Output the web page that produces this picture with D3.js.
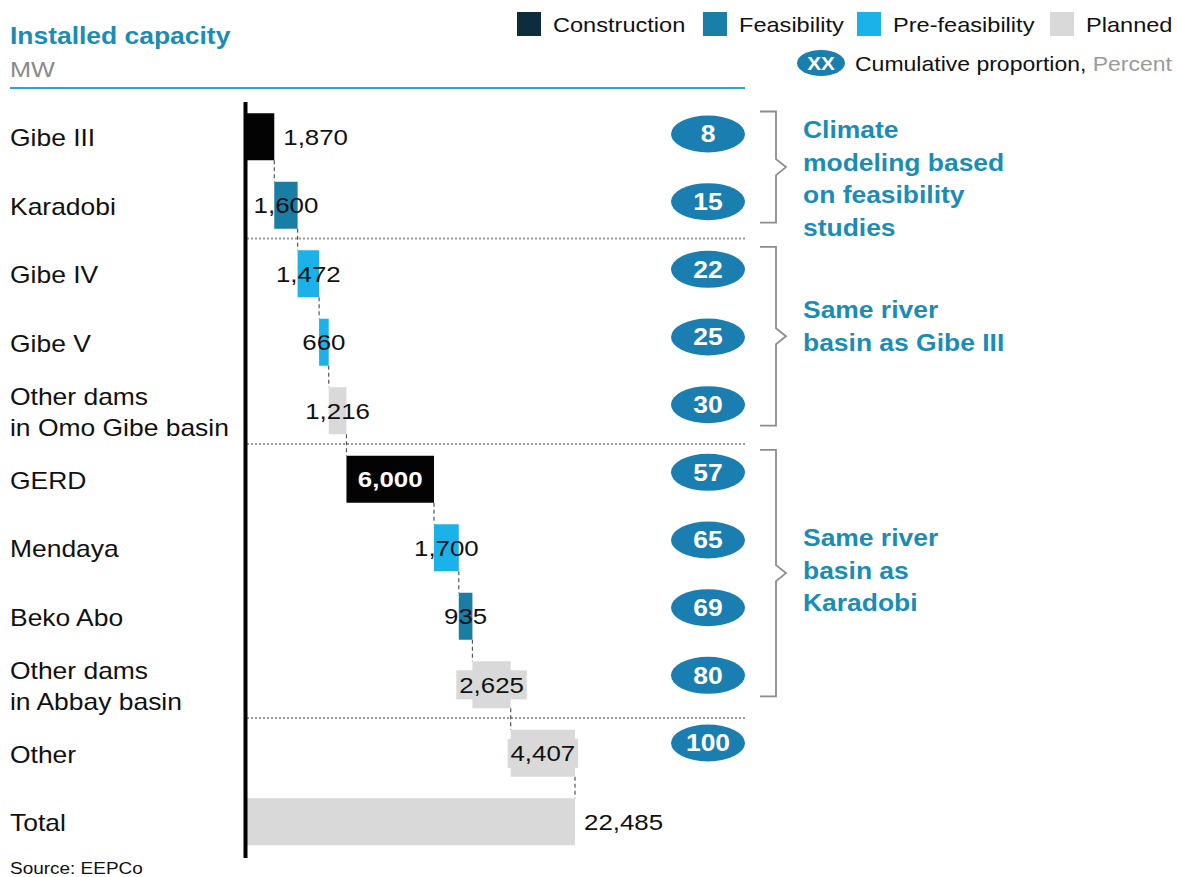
<!DOCTYPE html>
<html>
<head>
<meta charset="utf-8">
<script src="https://cdn.jsdelivr.net/npm/d3@7"></script>
<style>
  html, body { margin: 0; padding: 0; background: #fff; }
  svg { display: block; font-family: "Liberation Sans", Arial, sans-serif; }
</style>
</head>
<body>
<svg id="chart" width="1178" height="877"></svg>
<script>
// ---------- data ----------
const categories = ["Gibe III", "Karadobi", "Gibe IV", "Gibe V", "Other dams\nin Omo Gibe basin",
  "GERD", "Mendaya", "Beko Abo", "Other dams\nin Abbay basin", "Other", "Total"];
const values = [1870, 1600, 1472, 660, 1216, 6000, 1700, 935, 2625, 4407, 22485];
const statuses = ["Construction", "Feasibility", "Pre-feasibility", "Pre-feasibility", "Planned",
  "Construction", "Pre-feasibility", "Feasibility", "Planned", "Planned", "Total"];
const cumulativePct = [8, 15, 22, 25, 30, 57, 65, 69, 80, 100];
const legendItems = ["Construction", "Feasibility", "Pre-feasibility", "Planned"];
const groups = [
  { from: 0, to: 1, lines: ["Climate", "modeling based", "on feasibility", "studies"] },
  { from: 2, to: 4, lines: ["Same river", "basin as Gibe III"] },
  { from: 5, to: 8, lines: ["Same river", "basin as", "Karadobi"] }
];
const separatorsAfter = [1, 4, 8];

// ---------- style ----------
const SX = 1.15;
const TEAL = "#1b8cb5";
const PILL = "#1a7fb0";
const legendColor = { "Construction": "#0d2d3c", "Feasibility": "#1a7fa8", "Pre-feasibility": "#1ab2e8", "Planned": "#d9d9d9" };
const barColor = { "Construction": "#030303", "Feasibility": "#1a7da4", "Pre-feasibility": "#1ab2e8", "Planned": "#d9d9d9", "Total": "#d9d9d9" };

const svg = d3.select("#chart");

function txt(parent, x, y, s, o) {
  const g = parent.append("g").attr("transform", `translate(${x},${y}) scale(${SX},1)`);
  const t = g.append("text")
    .attr("text-anchor", o.anchor || "start")
    .attr("font-size", o.size)
    .attr("font-weight", o.weight || "normal")
    .attr("fill", o.fill || "#111")
    .text(s);
  return { g, t };
}

// ---------- header ----------
txt(svg, 10, 44, "Installed capacity", { size: 23, weight: "bold", fill: TEAL });
txt(svg, 10, 77, "MW", { size: 22, fill: "#8a8a8a" });
svg.append("line").attr("x1", 10).attr("x2", 745).attr("y1", 88).attr("y2", 88)
  .attr("stroke", "#2aa6d6").attr("stroke-width", 2);

// ---------- legend ----------
const legendX = [517, 703, 857, 1050];
legendItems.forEach((k, i) => {
  svg.append("rect").attr("x", legendX[i]).attr("y", 12).attr("width", 24).attr("height", 24)
    .attr("fill", legendColor[k]);
  txt(svg, legendX[i] + 36, 32, k, { size: 20.5, fill: "#111" });
});
svg.append("ellipse").attr("cx", 821).attr("cy", 63).attr("rx", 24).attr("ry", 13).attr("fill", PILL);
txt(svg, 821, 69.5, "XX", { size: 18, weight: "bold", fill: "#fff", anchor: "middle" });
{
  const l = txt(svg, 1172, 71, "", { size: 20, anchor: "end" });
  l.t.append("tspan").attr("fill", "#111").text("Cumulative proportion, ");
  l.t.append("tspan").attr("fill", "#9a9a9a").text("Percent");
}

// ---------- scales ----------
const x = d3.scaleLinear().domain([0, values[values.length - 1]]).range([247, 575]);
const y = d3.scaleBand().domain(categories).range([104, 857.5]).paddingInner(0.314).paddingOuter(0.157);
const pillY = d3.scaleLinear().domain([0, cumulativePct.length - 1]).range([134, 743]);
const bw = y.bandwidth();
const center = c => y(c) + bw / 2;

// waterfall data
let run = 0;
const rows = categories.map((c, i) => {
  const isTotal = statuses[i] === "Total";
  const start = isTotal ? 0 : run;
  const end = isTotal ? values[i] : run + values[i];
  if (!isTotal) run = end;
  return { cat: c, value: values[i], status: statuses[i], start, end, isTotal, i };
});

// ---------- separators ----------
separatorsAfter.forEach(i => {
  const yy = (center(categories[i]) + center(categories[i + 1])) / 2 - 2.5;
  svg.append("line").attr("x1", 247).attr("x2", 745).attr("y1", yy).attr("y2", yy)
    .attr("stroke", "#9a9a9a").attr("stroke-width", 2).attr("stroke-dasharray", "2,2");
});

// ---------- category labels ----------
rows.forEach(d => {
  const lines = d.cat.split("\n");
  const c = center(d.cat);
  if (lines.length === 1) {
    txt(svg, 10, c + 8.2, lines[0], { size: 23 });
  } else {
    txt(svg, 10, c - 15.5 + 8.2, lines[0], { size: 23 });
    txt(svg, 10, c + 15.5 + 8.2, lines[1], { size: 23 });
  }
});

// ---------- connectors ----------
rows.slice(0, -1).forEach((d, i) => {
  const nx = rows[i + 1];
  svg.append("line")
    .attr("x1", x(d.end)).attr("x2", x(d.end))
    .attr("y1", y(d.cat) - 1.5 + bw).attr("y2", y(nx.cat) - 1.5)
    .attr("stroke", "#555").attr("stroke-width", 1.2).attr("stroke-dasharray", "4,3");
});

// ---------- bars ----------
svg.selectAll("rect.bar").data(rows).enter().append("rect")
  .attr("class", "bar")
  .attr("x", d => x(d.start))
  .attr("y", d => y(d.cat) - 1.5)
  .attr("width", d => x(d.end) - x(d.start))
  .attr("height", bw)
  .attr("fill", d => barColor[d.status]);

// ---------- value labels ----------
const fmt = d3.format(",");
rows.forEach(d => {
  const c = center(d.cat) - 1.5;
  const right = d.i === 0 || d.isTotal;
  const isBigConstruction = d.status === "Construction" && !right;
  const xx = right ? x(d.end) + 9 : (x(d.start) + x(d.end)) / 2;
  const l = txt(svg, xx, c + 8, fmt(d.value), {
    size: 22.5,
    anchor: right ? "start" : "middle",
    weight: isBigConstruction ? "bold" : "normal",
    fill: isBigConstruction ? "#fff" : "#111"
  });
  if (d.status === "Planned" && d.value > 2000) {
    const b = l.t.node().getBBox();
    l.g.insert("rect", "text").attr("x", b.x - 2.5).attr("y", b.y - 2).attr("width", b.width + 5)
      .attr("height", b.height + 4).attr("fill", "#d9d9d9");
  }
});

// ---------- axis line ----------
svg.append("line").attr("x1", 245.5).attr("x2", 245.5).attr("y1", 102).attr("y2", 858)
  .attr("stroke", "#000").attr("stroke-width", 4);

// ---------- cumulative pills ----------
cumulativePct.forEach((p, i) => {
  const cy = pillY(i);
  svg.append("ellipse").attr("cx", 708).attr("cy", cy).attr("rx", 37).attr("ry", 18.5).attr("fill", PILL);
  txt(svg, 708, cy + 8.2, String(p), { size: 23, weight: "bold", fill: "#fff", anchor: "middle" });
});

// ---------- brackets ----------
const textOffsets = [-37, -26, -35];
groups.forEach((g, gi) => {
  const top = pillY(g.from) - 22.5;
  const bot = pillY(g.to) + 21;
  const mid = (top + bot) / 2;
  const bx = 776;
  const path = `M760,${top} H${bx} V${mid - 8} L${bx + 10},${mid} L${bx},${mid + 8} V${bot} H760`;
  svg.append("path").attr("d", path).attr("fill", "none").attr("stroke", "#8c8c8c").attr("stroke-width", 1.8);
  g.lines.forEach((ln, k) => {
    txt(svg, 803, mid + textOffsets[gi] + k * 32.5 + 8.2, ln, { size: 23, weight: "bold", fill: TEAL });
  });
});

// ---------- source ----------
txt(svg, 10, 874, "Source: EEPCo", { size: 16.5, fill: "#111" });
</script>
</body>
</html>
